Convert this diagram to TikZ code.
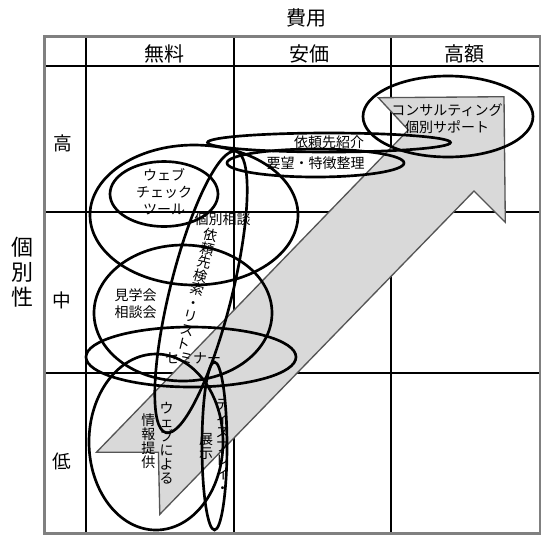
\documentclass[tikz,border=0pt]{standalone}
\usepackage{fontspec}
\setmainfont{Noto Sans CJK JP}

\tikzset{every picture/.style={line width=0.75pt}}
\tikzset{
  cellline/.style={line width=1.3pt, color=black},
  frameline/.style={line width=2pt, color={rgb, 255:red, 128; green, 128; blue, 128}},
  oval/.style={line width=2pt},
  band/.style={draw={rgb, 255:red, 85; green, 85; blue, 85}, fill={rgb, 255:red, 217; green, 217; blue, 217}, line width=1pt, line join=miter},
  headtxt/.style={inner sep=0.75pt, font=\fontsize{15}{18}\selectfont},
  rowtxt/.style={inner sep=0.75pt, font=\fontsize{14}{17}\selectfont},
  axistxt/.style={inner sep=0.75pt, align=center, font=\fontsize{16.5}{18.75}\selectfont},
  itemtxt/.style={inner sep=0.75pt, align=center, font=\fontsize{10.5}{12.75}\selectfont},
  vtxt/.style={inner sep=0.75pt, align=center, font=\fontsize{10.5}{10.5}\selectfont},
}

\begin{document}
\begin{tikzpicture}[x=0.75pt,y=0.75pt,yscale=-1,xscale=1]
\useasboundingbox (0,0) rectangle (543,537);

%Straight Lines
\draw [cellline]   (86,36.7) -- (86,533.5) ;
%Straight Lines
\draw [cellline]   (234.3,36.7) -- (234.3,533.5) ;
%Straight Lines
\draw [cellline]   (391,36.7) -- (391,533.5) ;
%Straight Lines
\draw [cellline]   (44.5,65.7) -- (540,65.7) ;
%Straight Lines
\draw [cellline]   (44.5,212) -- (540,212) ;
%Straight Lines
\draw [cellline]   (44.5,373) -- (540,373) ;
%Shape: Rectangle
\draw [frameline]   (44.5,36.7) rectangle (540,533.5) ;

%Shape: Arrow
\draw [band]   (96.4,452.3) -- (408.3,130) -- (378.3,97.7) -- (504,96.7) -- (505.3,222.3) -- (474,191) -- (159.8,514.3) -- (158.4,452.3) -- cycle ;

%Shape: Ellipse
\draw [oval]   (448,116.5) ellipse [x radius=85, y radius=40.5] ;
%Shape: Ellipse
\draw [oval]   (329,142.5) ellipse [x radius=121.5, y radius=9.5] ;
%Shape: Ellipse
\draw [oval]   (315.5,163) ellipse [x radius=88.5, y radius=14] ;
%Shape: Ellipse
\draw [oval]   (194,215) ellipse [x radius=104, y radius=70] ;
%Shape: Ellipse
\draw [oval]   (164,194) ellipse [x radius=54, y radius=32.5] ;
%Shape: Ellipse
\draw [oval]   (183,313) ellipse [x radius=89, y radius=68] ;
%Shape: Ellipse
\draw [oval, rotate around={14:(201,292)}]   (201,292) ellipse [x radius=31, y radius=145] ;
%Shape: Ellipse
\draw [oval]   (191,357) ellipse [x radius=105, y radius=30] ;
%Shape: Ellipse
\draw [oval]   (156,442) ellipse [x radius=67, y radius=88] ;
%Shape: Ellipse
\draw [oval]   (214.5,446) ellipse [x radius=12.5, y radius=84] ;

% Text Node
\draw (306.5,17.5) node (hiyou) [headtxt]  {費用};
% Text Node
\draw (164,54) node (muryou) [headtxt]  {無料};
% Text Node
\draw (309,54) node (anka) [headtxt]  {安価};
% Text Node
\draw (464,54) node (kougaku) [headtxt]  {高額};
% Text Node
\draw (22.5,272) node (kobetsusei) [axistxt]  {個\\別\\性};
% Text Node
\draw (62.5,143) node (rowhigh) [rowtxt]  {高};
% Text Node
\draw (61.5,300) node (rowmid) [rowtxt]  {中};
% Text Node
\draw (62,461) node (rowlow) [rowtxt]  {低};
% Text Node
\draw (447,118.5) node (consult) [itemtxt]  {コンサルティング\\個別サポート};
% Text Node
\draw (329,142) node (shoukai) [itemtxt]  {依頼先紹介};
% Text Node
\draw (315.5,163) node (youbou) [itemtxt]  {要望・特徴整理};
% Text Node
\draw (164,192) node (webcheck) [itemtxt]  {ウェブ\\チェック\\ツール};
% Text Node
\draw (222.5,219) node (soudan) [itemtxt]  {個別相談};
% Text Node
\draw (197.5,289) node (kensaku) [vtxt, rotate=-14]  {依\\頼\\先\\検\\索\\・\\リ\\ス\\ト};
% Text Node
\draw (135.5,303.5) node (kengaku) [itemtxt]  {見学会\\相談会};
% Text Node
\draw (193,358) node (seminar) [itemtxt]  {セミナー};
% Text Node
\draw (166.5,443) node (webniyoru) [vtxt]  {ウ\\ェ\\ブ\\に\\よ\\る};
% Text Node
\draw (148.3,441.5) node (jouhou) [vtxt]  {情\\報\\提\\供};
% Text Node
\draw (206,446) node (tenji) [vtxt]  {展\\示};
% Text Node
\begin{scope}
\clip (214.5,446) ellipse [x radius=12.5, y radius=84] ;
\draw (222.7,446) node (display) [vtxt]  {デ\\ィ\\ス\\プ\\レ\\イ\\・};
\end{scope}

\end{tikzpicture}
\end{document}
